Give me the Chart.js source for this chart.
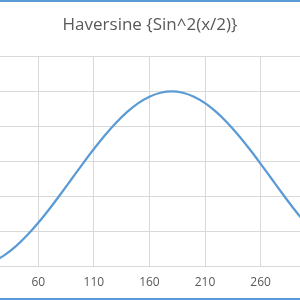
<!DOCTYPE html>
<html>
<head>
<meta charset="utf-8">
<script src="https://cdn.jsdelivr.net/npm/chart.js@4"></script>
<style>
  html, body { margin: 0; padding: 0; background: #fff; }
  #wrap { position: relative; width: 300px; height: 300px; overflow: hidden; }
  #chart { position: absolute; left: 0; top: 0; }
  .edge { position: absolute; left: 0; width: 300px; height: 2px; background: #5b9bd5; }
</style>
</head>
<body>
<div id="wrap">
  <canvas id="chart" width="300" height="300"></canvas>
  <div class="edge" style="top: 0"></div>
  <div class="edge" style="top: 298px"></div>
</div>
<script>
// angle in degrees, haversine value
const angles = [0, 10, 20, 30, 40, 50, 60, 70, 80, 90, 100, 110, 120, 130, 140, 150, 160, 170, 180,
  190, 200, 210, 220, 230, 240, 250, 260, 270, 280, 290, 300, 310, 320, 330, 340, 350, 360]
const haversine = [0, 0.0076, 0.0302, 0.067, 0.117, 0.1786, 0.25, 0.329, 0.4132, 0.5, 0.5868, 0.671, 0.75,
  0.8214, 0.883, 0.933, 0.9698, 0.9924, 1, 0.9924, 0.9698, 0.933, 0.883, 0.8214, 0.75, 0.671,
  0.5868, 0.5, 0.4132, 0.329, 0.25, 0.1786, 0.117, 0.067, 0.0302, 0.0076, 0]
const xTicks = [60, 110, 160, 210, 260]
const yTicks = [0, 0.2, 0.4, 0.6, 0.8, 1, 1.2]

document.addEventListener("DOMContentLoaded", () => {
  const points = angles.map((a, i) => ({ x: a, y: haversine[i] }))

  new Chart(document.getElementById("chart"), {
    type: "line",
    data: {
      datasets: [
        {
          data: points,
          borderColor: "#5b9bd5",
          borderWidth: 2.25,
          pointRadius: 0,
          fill: false,
          cubicInterpolationMode: "monotone",
        },
      ],
    },
    options: {
      responsive: false,
      animation: false,
      layout: { padding: { left: 0, right: 0, top: 0, bottom: 1 } },
      plugins: {
        legend: { display: false },
        tooltip: { enabled: false },
        title: {
          display: true,
          text: "Haversine {Sin^2(x/2)}",
          color: "#595959",
          font: { family: "'Open Sans', sans-serif", size: 17, weight: "normal" },
          padding: { top: 15, bottom: 21 },
        },
      },
      scales: {
        x: {
          type: "linear",
          min: 25.6,
          max: 295.4,
          afterBuildTicks: (scale) => {
            scale.ticks = xTicks.map((v) => ({ value: v }))
          },
          grid: { color: "#d9d9d9", lineWidth: 1, drawTicks: false },
          border: { display: false },
          ticks: {
            color: "#595959",
            padding: 9,
            maxRotation: 0,
            font: { family: "'Open Sans', sans-serif", size: 12 },
          },
        },
        y: {
          min: 0,
          max: 1.2,
          afterBuildTicks: (scale) => {
            scale.ticks = yTicks.map((v) => ({ value: v }))
          },
          grid: { color: "#d9d9d9", lineWidth: 1, drawTicks: false },
          border: { display: false },
          ticks: { display: false },
        },
      },
    },
  })
})
</script>
</body>
</html>
